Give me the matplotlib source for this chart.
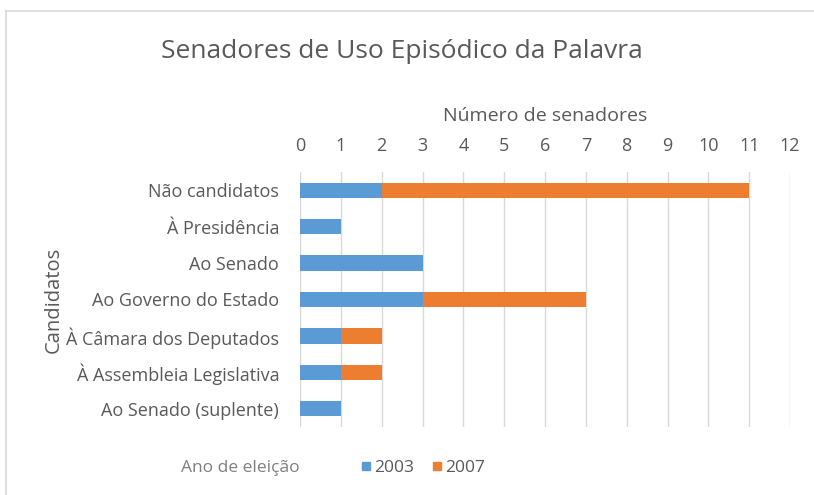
import matplotlib.pyplot as plt
import numpy as np
from matplotlib.lines import Line2D

categorias = ["Não candidatos", "À Presidência", "Ao Senado", "Ao Governo do Estado",
              "À Câmara dos Deputados", "À Assembleia Legislativa", "Ao Senado (suplente)"]
v2003 = [2, 1, 3, 3, 1, 1, 1]
v2007 = [9, 0, 0, 4, 1, 1, 0]
anos = ["2003", "2007"]
cores = ["#5B9BD5", "#ED7D31"]

plt.rcParams['font.family'] = ['Open Sans', 'DejaVu Sans']
cinza = "#595959"

fig = plt.figure(figsize=(8.14, 4.95), dpi=100)
ax = fig.add_axes([300/814, 1-427/495, 490/814, 255/495])

y = np.arange(len(categorias))
ax.barh(y, v2003, height=0.42, color=cores[0], zorder=3)
ax.barh(y, v2007, height=0.42, left=v2003, color=cores[1], zorder=3)

ax.set_xlim(0, 12)
ax.set_ylim(len(categorias) - 0.5, -0.5)
ax.set_xticks(range(0, 13))
ax.set_yticks(y)
ax.set_yticklabels(categorias)
ax.xaxis.tick_top()
ax.xaxis.set_label_position('top')
ax.grid(axis='x', color='#d9d9d9', linewidth=1, zorder=0)
for s in ax.spines.values():
    s.set_visible(False)
ax.tick_params(length=0, labelsize=13, colors=cinza)
ax.tick_params(axis='y', pad=15)
ax.tick_params(axis='x', pad=12)
ax.set_xlabel("Número de senadores", fontsize=14, color=cinza, labelpad=12)
ax.set_ylabel("Candidatos", fontsize=14.5, color=cinza)
ax.yaxis.set_label_coords(-236/490, 0.5)

fig.text(402/814, 1-52/495, "Senadores de Uso Episódico da Palavra", fontsize=19,
         color=cinza, ha='center', va='center')

# legenda
fig.text(240/814, 1-468/495, "Ano de eleição", fontsize=12.5, color="#7f7f7f",
         ha='center', va='center')
handles = [Line2D([], [], marker='s', linestyle='none', markersize=6, color=c) for c in cores]
fig.legend(handles, anos, loc='center', bbox_to_anchor=(422/814, 1-468/495), ncol=2,
           frameon=False, fontsize=12.5, labelcolor=cinza, handletextpad=0.1,
           columnspacing=0.9, handlelength=0.8)

# moldura
fig.add_artist(Line2D([6/814, 6/814], [0, 1-11/495], color='#d9d9d9', linewidth=1.2))
fig.add_artist(Line2D([6/814, 1], [1-11/495, 1-11/495], color='#d9d9d9', linewidth=1.2))

fig.savefig("out.png", dpi=100)
